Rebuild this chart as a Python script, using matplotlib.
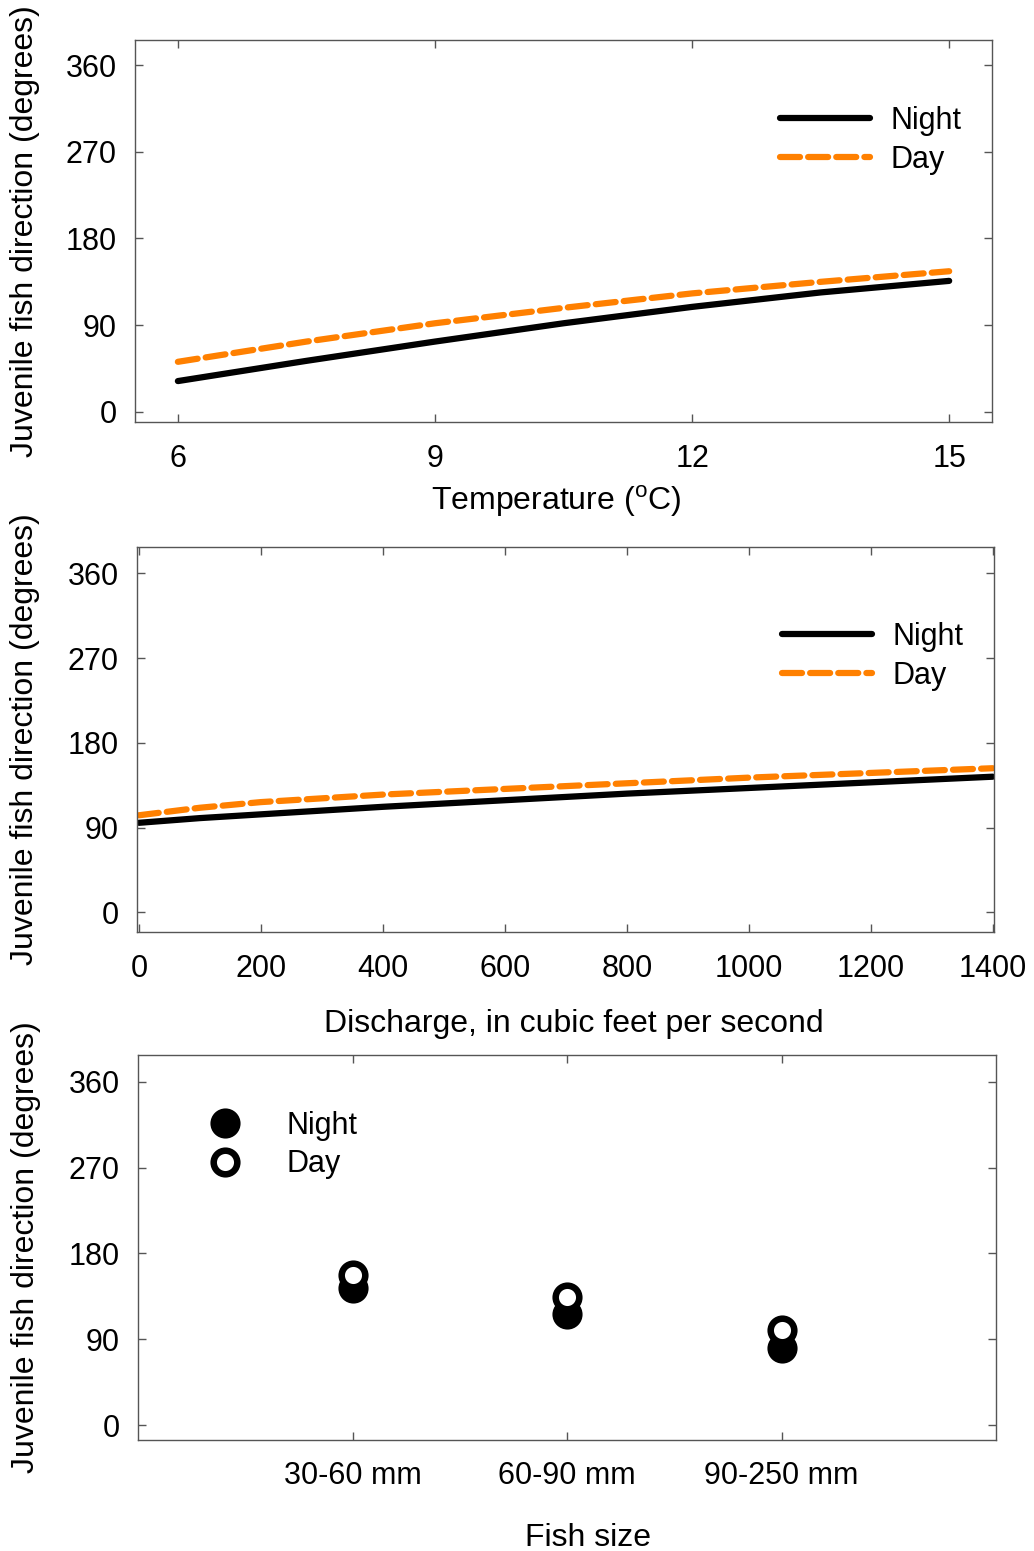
import numpy as np
import matplotlib
matplotlib.use('Agg')
import matplotlib.pyplot as plt
from matplotlib.lines import Line2D

plt.rcParams['font.family'] = ['Liberation Sans', 'DejaVu Sans']
plt.rcParams['mathtext.fontset'] = 'custom'
plt.rcParams['mathtext.rm'] = 'Liberation Sans'

# panel 1: temperature
temp = [6, 7.5, 9, 10.5, 12, 13.5, 15]
temp_night = [32, 53, 73, 92, 109, 124, 136]
temp_day = [52, 73, 92, 108, 123, 135, 146]

# panel 2: discharge
discharge = [0, 100, 200, 400, 600, 800, 1000, 1200, 1400]
dis_night = [95, 100, 104, 112, 119, 126, 132, 138, 144]
dis_day = [103, 111, 117, 125, 131, 137, 143, 148, 153]

# panel 3: fish size
size_labels = ['30-60 mm', '60-90 mm', '90-250 mm']
size_night = [144, 117, 81]
size_day = [157, 134, 100]

yticks = [0, 90, 180, 270, 360]
ylab = 'Juvenile fish direction (degrees)'
orange = '#ff8000'
spine_col = '#555555'

fig = plt.figure(figsize=(10.34, 15.51), dpi=100)


def style_axes(ax, xpad, ylab_x):
    for s in ax.spines.values():
        s.set_color(spine_col)
        s.set_linewidth(1.0)
    ax.tick_params(direction='in', top=True, right=True, length=6, width=1,
                   color=spine_col, labelsize=22)
    ax.tick_params(axis='x', pad=xpad)
    ax.tick_params(axis='y', pad=13)
    ax.set_yticks(yticks)
    ax.set_ylabel(ylab, fontsize=23)
    ax.yaxis.label.set_va('center')
    ax.yaxis.set_label_coords(ylab_x, 0.5)


def line_legend(ax, x, y):
    handles = [Line2D([], [], color='black', lw=4.5, solid_capstyle='round'),
               Line2D([], [], color=orange, lw=4.5, dashes=(3.2, 1.3),
                      dash_capstyle='round')]
    ax.legend(handles, ['Night', 'Day'], loc='upper left', bbox_to_anchor=(x, y),
              frameon=False, fontsize=22, handlelength=2.95, handletextpad=0.65,
              labelspacing=0.28, borderpad=0, borderaxespad=0)


# top panel
ax1 = fig.add_axes([0.1306, 0.7279, 0.8288, 0.2463])
ax1.plot(temp, temp_night, color='black', lw=4.5, solid_capstyle='round')
ax1.plot(temp, temp_day, color=orange, lw=4.5, dashes=(3.2, 1.3),
         dash_capstyle='round')
ax1.set_xlim(5.5, 15.5)
ax1.set_ylim(-10.5, 386)
ax1.set_xticks([6, 9, 12, 15])
style_axes(ax1, 15.5, -0.128)
ax1.set_xlabel(r'Temperature ($^{\mathrm{o}}$C)', fontsize=23)
ax1.xaxis.set_label_coords(0.491, -0.207)
ax1.xaxis.label.set_va('center')
line_legend(ax1, 0.753, 0.827)

# middle panel
ax2 = fig.add_axes([0.1325, 0.3991, 0.8288, 0.2482])
ax2.plot(discharge, dis_night, color='black', lw=4.5, solid_capstyle='round')
ax2.plot(discharge, dis_day, color=orange, lw=4.5, dashes=(3.2, 1.3),
         dash_capstyle='round')
ax2.set_xlim(-3, 1402)
ax2.set_ylim(-21, 388)
ax2.set_xticks(range(0, 1401, 200))
style_axes(ax2, 15.5, -0.131)
ax2.set_xlabel('Discharge, in cubic feet per second', fontsize=23)
ax2.xaxis.set_label_coords(0.51, -0.239)
ax2.xaxis.label.set_va('center')
line_legend(ax2, 0.753, 0.805)

# bottom panel
ax3 = fig.add_axes([0.1335, 0.0716, 0.8298, 0.2482])
xs = np.arange(1, len(size_labels) + 1)
ax3.plot(xs, size_night, 'o', ms=17, mew=4.7, mfc='black', mec='black',
         label='Night')
ax3.plot(xs, size_day, 'o', ms=17, mew=4.7, mfc='white', mec='black',
         label='Day')
ax3.set_xlim(0, 4)
ax3.set_ylim(-15.5, 388)
ax3.set_xticks(xs)
ax3.set_xticklabels(size_labels)
style_axes(ax3, 15.5, -0.131)
ax3.set_xlabel('Fish size', fontsize=23)
ax3.xaxis.set_label_coords(0.524, -0.255)
ax3.xaxis.label.set_va('center')
ax3.legend(loc='upper left', bbox_to_anchor=(0.066, 0.855), frameon=False,
           fontsize=22, handlelength=2.0, handletextpad=1.0, labelspacing=0.28,
           borderpad=0, borderaxespad=0, numpoints=1)

fig.savefig('out.png', dpi=100)
